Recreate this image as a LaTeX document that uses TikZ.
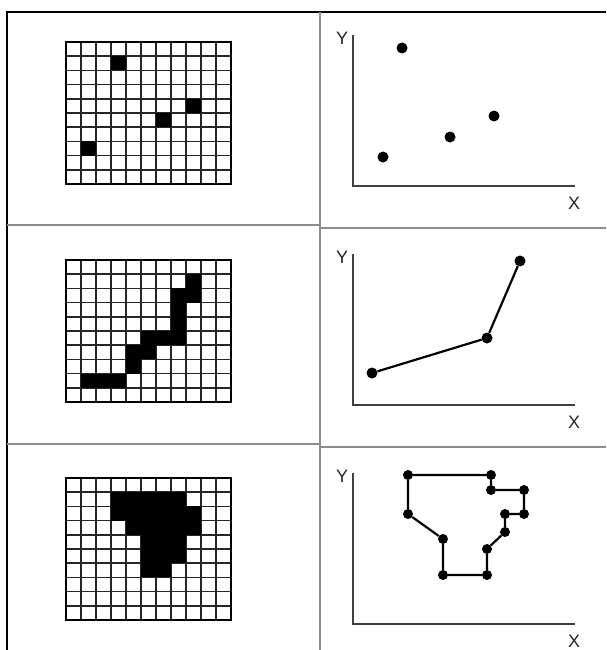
\documentclass[tikz,border=0pt]{standalone}
\usepackage{fontspec}
\setmainfont{Liberation Sans}
\begin{document}
\begin{tikzpicture}[
        x=1pt, y=-1pt,
        frameline/.style={line width=2.2pt, black},
        divider/.style={line width=2pt, black!45},
        gridline/.style={line width=1.6pt, black!85},
        gridframe/.style={line width=2.6pt, black},
        axis/.style={line width=2.4pt, black!75},
        curve/.style={line width=2.2pt, black},
        dot/.style={circle, fill=black, inner sep=0pt, minimum size=11pt},
        sdot/.style={circle, fill=black, inner sep=0pt, minimum size=10pt},
        lbl/.style={inner sep=0pt, font=\fontsize{18}{18}\selectfont, text=black!85},
    ]
    \useasboundingbox (0,0) rectangle (606,650);
    % outer frame and table lines
    \draw[frameline] (7,650) -- (7,12) -- (606,12);
    \draw[divider] (320,12) -- (320,650);
    \draw[divider] (7,225) -- (320,225);
    \draw[divider] (320,228) -- (606,228);
    \draw[divider] (7,444) -- (320,444);
    \draw[divider] (320,447) -- (606,447);
    % raster grids
    \foreach \gy/\cells in {42/{3/1,8/4,6/5,1/7},
        260/{8/1,7/2,8/2,7/3,7/4,5/5,6/5,7/5,4/6,5/6,4/7,1/8,2/8,3/8},
        478/{3/1,4/1,5/1,6/1,7/1,3/2,4/2,5/2,6/2,7/2,8/2,4/3,5/3,6/3,7/3,8/3,
             5/4,6/4,7/4,5/5,6/5,7/5,5/6,6/6}}{
        \begin{scope}[shift={(66,\gy)}, x=15pt, y=-14.2pt]
            \foreach \c in {1,...,10}
                \draw[gridline] (\c,0) -- (\c,10);
            \foreach \r in {1,...,9}
                \draw[gridline] (0,\r) -- (11,\r);
            \foreach \c/\r in \cells
                \fill (\c,\r) rectangle ++(1,1);
            \draw[gridframe] (0,0) rectangle (11,10);
        \end{scope}
    }
    % vector axes
    \foreach \oy in {186,405,624}{
        \coordinate (ytop) at (353,\oy-151);
        \coordinate (orig) at (353,\oy);
        \coordinate (xend) at (575,\oy);
        \draw[axis] (ytop) -- (orig) -- (xend);
        \node[lbl] at (342,\oy-148) {Y};
        \node[lbl] at (574,\oy+17) {X};
    }
    % points
    \node[dot](p1) at (402,48){};
    \node[dot](p2) at (494,116){};
    \node[dot](p3) at (450,137){};
    \node[dot](p4) at (383,157){};
    % line
    \node[dot](l1) at (372,373){};
    \node[dot](l2) at (487,338){};
    \node[dot](l3) at (520,261){};
    \draw[curve] (l1) -- (l2) -- (l3);
    % polygon
    \node[sdot](a1) at (408,475){};
    \node[sdot](a2) at (491,475){};
    \node[sdot](a3) at (491,490){};
    \node[sdot](a4) at (524,490){};
    \node[sdot](a5) at (524,514){};
    \node[sdot](a6) at (505,514){};
    \node[sdot](a7) at (505,532){};
    \node[sdot](a8) at (487,549){};
    \node[sdot](a9) at (487,575){};
    \node[sdot](a10) at (443,575){};
    \node[sdot](a11) at (443,539){};
    \node[sdot](a12) at (408,514){};
    \draw[curve] (a1) -- (a2) -- (a3) -- (a4) -- (a5) -- (a6) -- (a7) -- (a8)
        -- (a9) -- (a10) -- (a11) -- (a12) -- (a1);
\end{tikzpicture}
\end{document}
